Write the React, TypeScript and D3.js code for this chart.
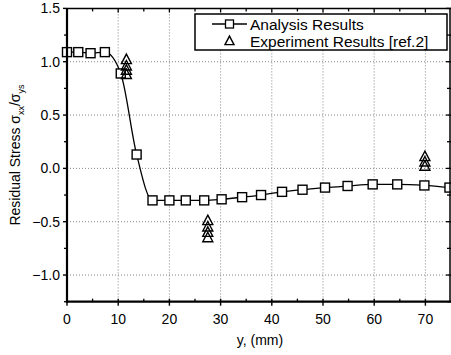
import React from "react";
import * as d3 from "d3";

const analysisX = [0, 2.2, 4.6, 7.4, 10.5, 13.6, 16.7, 20.0, 23.2, 26.8, 30.2, 34.2, 37.9, 42.0, 46.0, 50.4, 54.8, 59.7, 64.5, 69.8, 74.7];
const analysisY = [1.09, 1.09, 1.08, 1.09, 0.89, 0.13, -0.30, -0.30, -0.30, -0.30, -0.29, -0.27, -0.25, -0.22, -0.20, -0.18, -0.165, -0.15, -0.15, -0.16, -0.18];

const expX = [11.6, 11.6, 11.6, 11.6, 27.5, 27.5, 27.5, 27.5, 69.9, 69.9, 69.9];
const expY = [1.02, 0.96, 0.92, 0.88, -0.49, -0.55, -0.60, -0.65, 0.11, 0.06, 0.02];

const xTicks = [0, 10, 20, 30, 40, 50, 60, 70];
const xMinor = [5, 15, 25, 35, 45, 55, 65];
const yTicks = [-1.0, -0.5, 0.0, 0.5, 1.0, 1.5];
const yMinor = [-1.25, -0.75, -0.25, 0.25, 0.75, 1.25];
const xGrid = [10, 20, 30, 40, 50, 60, 70];
const yGrid = [-1.0, -0.5, 0.0, 0.5, 1.0];

const legendLabels = ["Analysis Results", "Experiment Results [ref.2]"];

const W = 451, H = 355;
const L = 67, R = 451, T = 8.4, B = 301.7;
const FONT = "'Liberation Sans', Arial, Helvetica, sans-serif";

export default function App() {
  const x = d3.scaleLinear().domain([0, 75]).range([L, R]);
  const y = d3.scaleLinear().domain([-1.25, 1.5]).range([B, T]);
  const pts: [number, number][] = analysisX.map((v, i) => [v, analysisY[i]]);
  const line = d3.line<[number, number]>().x(d => x(d[0])).y(d => y(d[1])).curve(d3.curveMonotoneX);
  const sq = 9;
  const tri = (cx: number, cy: number, s: number) =>
    `M${cx},${cy - s * 0.55} L${cx + s / 2},${cy + s * 0.4} L${cx - s / 2},${cy + s * 0.4} Z`;
  const fmt = (v: number) => (v < 0 ? "\u2212" : "") + Math.abs(v).toFixed(1);

  return (
    <svg width={W} height={H} style={{ position: "absolute", left: 0, top: 0, background: "#fff" }} fontFamily={FONT}>
      <rect x={0} y={0} width={W} height={H} fill="#fff" />
      {/* grid */}
      {xGrid.map(v => (
        <line key={"gx" + v} x1={x(v)} x2={x(v)} y1={T} y2={B} stroke="#777" strokeWidth={0.9} strokeDasharray="1,2" />
      ))}
      {yGrid.map(v => (
        <line key={"gy" + v} x1={L} x2={R} y1={y(v)} y2={y(v)} stroke="#777" strokeWidth={0.9} strokeDasharray="1,2" />
      ))}
      {/* analysis line */}
      <path d={line(pts) || ""} fill="none" stroke="#000" strokeWidth={1.3} />
      {pts.map((p, i) => (
        <rect key={"s" + i} x={x(p[0]) - sq / 2} y={y(p[1]) - sq / 2} width={sq} height={sq} fill="#fff" stroke="#000" strokeWidth={1.4} />
      ))}
      {expX.map((v, i) => (
        <path key={"t" + i} d={tri(x(v), y(expY[i]), 10)} fill="none" stroke="#000" strokeWidth={1.4} />
      ))}
      {/* axes frame */}
      <line x1={L} x2={R} y1={T} y2={T} stroke="#000" strokeWidth={1.5} />
      <line x1={R - 1} x2={R - 1} y1={T} y2={B} stroke="#000" strokeWidth={1.5} />
      <line x1={L} x2={L} y1={T} y2={B + 1} stroke="#000" strokeWidth={2.2} />
      <line x1={L - 1} x2={R} y1={B} y2={B} stroke="#000" strokeWidth={2.2} />
      {/* x ticks */}
      {xTicks.map(v => (
        <g key={"xt" + v}>
          <line x1={x(v)} x2={x(v)} y1={B - 3} y2={B + 4} stroke="#000" strokeWidth={1.4} />
          <line x1={x(v)} x2={x(v)} y1={T} y2={T + 4} stroke="#000" strokeWidth={1.3} />
          <text x={x(v)} y={y(-1.25) + 22} fontSize={14} textAnchor="middle" fill="#000">{v}</text>
        </g>
      ))}
      {xMinor.map(v => (
        <g key={"xm" + v}>
          <line x1={x(v)} x2={x(v)} y1={B - 3} y2={B} stroke="#000" strokeWidth={1.3} />
          <line x1={x(v)} x2={x(v)} y1={T} y2={T + 3} stroke="#000" strokeWidth={1.3} />
        </g>
      ))}
      {/* y ticks */}
      {yTicks.map(v => (
        <g key={"yt" + v}>
          <line x1={L - 4} x2={L} y1={y(v)} y2={y(v)} stroke="#000" strokeWidth={1.4} />
          <line x1={R - 5} x2={R} y1={y(v)} y2={y(v)} stroke="#000" strokeWidth={1.3} />
          <text x={L - 7} y={y(v) + 5} fontSize={14} textAnchor="end" fill="#000">{fmt(v)}</text>
        </g>
      ))}
      {yMinor.map(v => (
        <g key={"ym" + v}>
          <line x1={L - 3} x2={L} y1={y(v)} y2={y(v)} stroke="#000" strokeWidth={1.3} />
          <line x1={R - 4} x2={R} y1={y(v)} y2={y(v)} stroke="#000" strokeWidth={1.3} />
        </g>
      ))}
      {/* axis titles */}
      <text x={(x(0) + x(75)) / 2 + 1} y={345} fontSize={14} textAnchor="middle" fill="#000">y, (mm)</text>
      <text transform={`translate(20, ${y(0.125)}) rotate(-90)`} fontSize={14} textAnchor="middle" fill="#000">
        Residual Stress σ<tspan fontSize={9} dy={4}>xx</tspan><tspan dy={-4}>/σ</tspan><tspan fontSize={9} dy={4}>ys</tspan>
      </text>
      {/* legend */}
      <g>
        <rect x={195} y={14} width={252} height={36} fill="#fff" stroke="#000" strokeWidth={1.5} />
        <line x1={212} x2={247} y1={24} y2={24} stroke="#000" strokeWidth={1.3} />
        <rect x={229.5 - 4} y={24 - 4} width={8} height={8} fill="#fff" stroke="#000" strokeWidth={1.3} />
        <text x={250} y={29.5} fontSize={15.5} fill="#000">{legendLabels[0]}</text>
        <path d={tri(229.5, 41, 9)} fill="none" stroke="#000" strokeWidth={1.4} />
        <text x={250} y={46.5} fontSize={15.5} fill="#000">{legendLabels[1]}</text>
      </g>
    </svg>
  );
}
